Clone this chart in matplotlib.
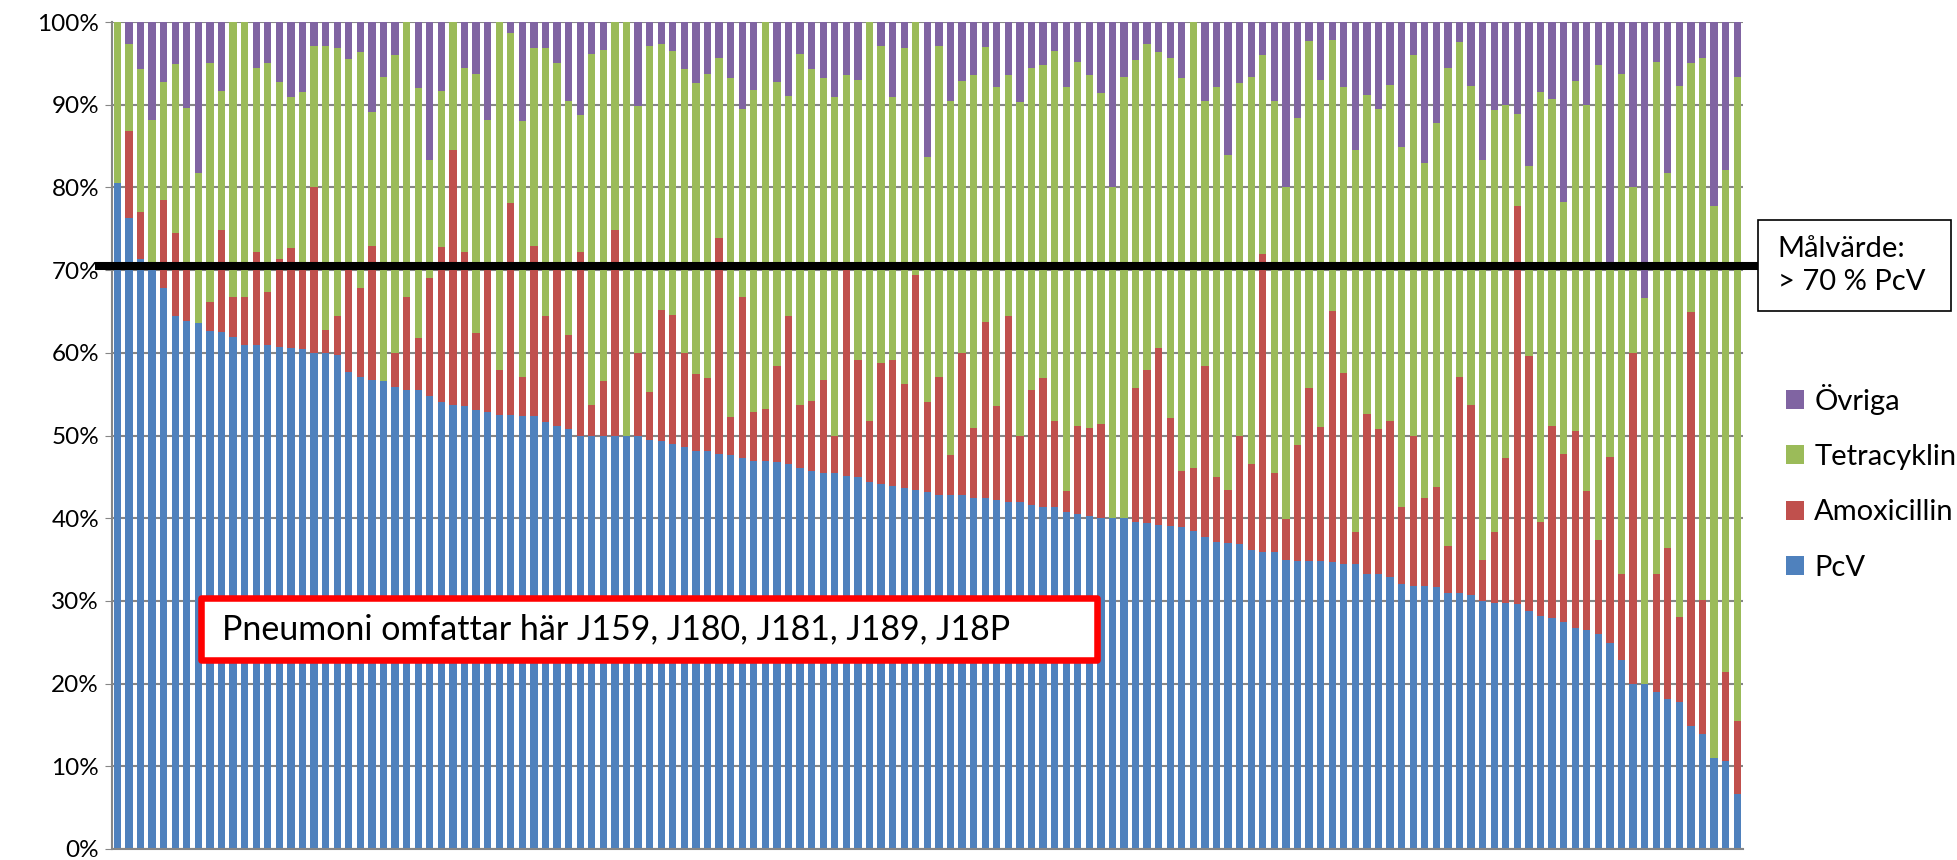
import numpy as np
import matplotlib.pyplot as plt
from matplotlib.patches import Rectangle
import matplotlib.transforms as mtransforms

plt.rcParams['font.family'] = ['Lato', 'DejaVu Sans']

# Andel (%) per vårdcentral, sorterat efter PcV
pcv = [80.5, 76.3, 71.4, 71.0, 67.8, 64.4, 63.8, 63.6, 62.6, 62.5,
       61.9, 61.0, 61.0, 60.9, 60.7, 60.6, 60.5, 60.0, 60.0, 59.7,
       57.7, 57.1, 56.7, 56.6, 55.9, 55.5, 55.5, 54.8, 54.1, 53.7,
       53.6, 53.1, 52.8, 52.5, 52.5, 52.4, 52.4, 51.6, 51.1, 50.8,
       50.0, 50.0, 50.0, 50.0, 50.0, 50.0, 49.4, 49.3, 49.0, 48.6,
       48.1, 48.1, 47.8, 47.7, 47.3, 46.9, 46.9, 46.8, 46.6, 46.1,
       45.7, 45.5, 45.5, 45.1, 45.0, 44.4, 44.1, 43.9, 43.7, 43.4,
       43.2, 42.8, 42.8, 42.8, 42.5, 42.4, 42.2, 41.9, 41.9, 41.6,
       41.4, 41.4, 40.8, 40.5, 40.3, 40.0, 40.0, 40.0, 39.6, 39.4,
       39.2, 39.1, 38.9, 38.4, 37.7, 37.1, 37.0, 36.9, 36.1, 35.9,
       35.9, 34.9, 34.8, 34.8, 34.8, 34.7, 34.5, 34.5, 33.3, 33.2,
       32.9, 32.0, 31.8, 31.8, 31.7, 31.0, 30.9, 30.7, 30.0, 29.7,
       29.7, 29.6, 28.8, 28.2, 27.9, 27.5, 26.7, 26.5, 26.0, 24.9,
       22.8, 20.0, 20.0, 19.0, 18.1, 17.8, 14.9, 13.9, 11.0, 10.6,
       6.7]

amoxicillin = [0, 10.5, 5.6, 0, 10.7, 10.1, 7.2, 0, 3.6, 12.4,
               4.8, 5.7, 11.2, 6.5, 10.7, 12.1, 10.5, 20.0, 2.8, 4.8,
               13.3, 10.7, 16.2, 0, 4.1, 11.2, 6.3, 14.2, 18.7, 30.8,
               18.6, 9.3, 17.7, 5.4, 25.6, 4.7, 20.5, 12.9, 19.9, 11.4,
               22.2, 3.7, 6.6, 24.9, 0, 10.0, 5.9, 15.9, 15.6, 11.4,
               9.3, 8.8, 26.1, 4.5, 19.4, 6.0, 6.3, 11.6, 17.8, 7.6,
               8.5, 11.2, 4.4, 25.4, 14.1, 7.4, 14.7, 15.2, 12.5, 26.0,
               10.8, 14.3, 4.8, 17.2, 8.4, 21.3, 11.4, 22.6, 8.0, 13.9,
               15.5, 10.3, 2.5, 10.7, 10.6, 11.4, 0, 0, 16.2, 18.5,
               21.4, 13.0, 6.8, 7.7, 20.7, 7.9, 6.4, 13.0, 10.5, 36.0,
               9.6, 5.0, 14.0, 21.0, 16.2, 30.4, 23.1, 3.8, 19.3, 17.6,
               18.9, 9.4, 18.1, 10.7, 12.1, 5.6, 26.2, 23.0, 4.9, 8.6,
               17.6, 48.1, 30.8, 11.4, 23.2, 20.3, 23.9, 16.8, 11.4, 22.5,
               10.5, 40.0, 0, 14.3, 18.3, 10.3, 50.0, 16.2, 0, 10.8,
               8.8]

tetracyklin = [19.5, 10.5, 17.3, 17.2, 14.3, 20.4, 18.6, 18.2, 28.9, 16.7,
               33.3, 33.3, 22.2, 27.7, 21.4, 18.2, 20.5, 17.1, 34.3, 32.3,
               24.5, 28.6, 16.2, 36.7, 36.0, 33.3, 30.2, 14.3, 18.8, 15.5,
               22.2, 31.3, 17.7, 42.1, 20.6, 30.9, 23.9, 32.3, 24.1, 28.3,
               16.6, 42.4, 40.0, 25.1, 50.0, 29.9, 41.8, 32.1, 31.9, 34.3,
               35.2, 36.8, 21.7, 41.0, 22.8, 38.9, 46.8, 34.4, 26.7, 42.4,
               40.1, 36.5, 41.0, 23.1, 33.9, 48.2, 38.3, 31.8, 40.6, 30.6,
               29.7, 40.0, 42.8, 32.9, 42.7, 33.3, 38.5, 29.1, 40.4, 38.9,
               37.9, 44.8, 48.8, 44.0, 42.7, 40.0, 40.0, 53.3, 39.6, 39.4,
               35.8, 43.5, 47.5, 53.9, 32.1, 47.1, 40.5, 42.7, 46.7, 24.1,
               44.9, 40.1, 39.6, 41.9, 42.0, 32.7, 34.6, 46.2, 38.6, 38.7,
               40.6, 43.5, 46.1, 40.5, 44.0, 57.8, 40.5, 38.6, 48.4, 51.1,
               42.7, 11.2, 23.0, 51.9, 39.6, 30.4, 42.3, 46.7, 57.4, 23.6,
               60.4, 20.0, 46.6, 61.9, 45.4, 64.2, 30.1, 65.6, 66.7, 60.7,
               77.8]

ovriga = [0, 2.7, 5.7, 11.8, 7.2, 5.1, 10.4, 18.2, 4.9, 8.4,
          0, 0, 5.6, 4.9, 7.2, 9.1, 8.5, 2.9, 2.9, 3.2,
          4.5, 3.6, 10.9, 6.7, 4.0, 0, 8.0, 16.7, 8.4, 0,
          5.6, 6.3, 11.8, 0, 1.3, 12.0, 3.2, 3.2, 4.9, 9.5,
          11.2, 3.9, 3.4, 0, 0, 10.1, 2.9, 2.7, 3.5, 5.7,
          7.4, 6.3, 4.4, 6.8, 10.5, 8.2, 0, 7.2, 8.9, 3.9,
          5.7, 6.8, 9.1, 6.4, 7.0, 0, 2.9, 9.1, 3.2, 0,
          16.3, 2.9, 9.6, 7.1, 6.4, 3.0, 7.9, 6.4, 9.7, 5.6,
          5.2, 3.5, 7.9, 4.8, 6.4, 8.6, 20.0, 6.7, 4.6, 2.7,
          3.6, 4.4, 6.8, 0, 9.5, 7.9, 16.1, 7.4, 6.7, 4.0,
          9.6, 20.0, 11.6, 2.3, 7.0, 2.2, 7.8, 15.5, 8.8, 10.5,
          7.6, 15.1, 4.0, 17.0, 12.2, 5.6, 2.4, 7.7, 16.7, 10.6,
          10.0, 11.1, 17.4, 8.5, 9.3, 21.8, 7.1, 10.0, 5.2, 29.0,
          6.3, 20.0, 33.4, 4.8, 18.2, 7.7, 5.0, 4.3, 22.3, 17.9,
          6.7]

series_names = ['PcV', 'Amoxicillin', 'Tetracyklin', 'Övriga']
series_colors = ['#4F81BD', '#C0504D', '#9BBB59', '#8064A2']
y_ticks = [0, 10, 20, 30, 40, 50, 60, 70, 80, 90, 100]
target_value = 70.5
target_text = 'Målvärde:\n> 70 % PcV'
note_text = 'Pneumoni omfattar här J159, J180, J181, J189, J18P'

# Figure and axes placement
fig = plt.figure(figsize=(19.58, 8.6), dpi=100)
ax = fig.add_axes([0.0570, 0.0128, 0.8332, 0.9616])

x = np.arange(len(pcv))
bottom = np.zeros(len(pcv))
handles = []
for name, vals, color in zip(series_names, [pcv, amoxicillin, tetracyklin, ovriga], series_colors):
    vals = np.array(vals)
    h = ax.bar(x, vals, bottom=bottom, width=0.63, color=color, label=name, zorder=2)
    handles.append(h)
    bottom = bottom + vals

ax.set_xlim(-0.5, len(pcv) - 0.5)
ax.set_ylim(0, 100)
ax.set_yticks(y_ticks)
ax.set_yticklabels([f'{t}%' for t in y_ticks], fontsize=17.5)
ax.set_xticks([])
ax.tick_params(axis='y', length=5, color='#868686', pad=4)

ax.set_axisbelow(True)
ax.grid(axis='y', color='#868686', linewidth=1.5, zorder=0)
for side in ['top', 'right']:
    ax.spines[side].set_visible(False)
for side in ['left', 'bottom']:
    ax.spines[side].set_color('#868686')
    ax.spines[side].set_linewidth(1.5)

# Target line (Målvärde)
trans = mtransforms.blended_transform_factory(ax.transAxes, ax.transData)
ax.plot([-0.0102, 1.0094], [target_value, target_value], color='black',
        linewidth=5.8, transform=trans, clip_on=False, zorder=5,
        solid_capstyle='butt')

# Target box
fig.patches.append(Rectangle((0.8979, 0.6384), 0.0985, 0.1058, transform=fig.transFigure,
                             facecolor='white', edgecolor='black', linewidth=1.2, zorder=6))
fig.text(0.908, 0.6913, target_text, fontsize=21, va='center', ha='left',
         linespacing=1.35, zorder=7)

# Note box
fig.patches.append(Rectangle((201 / 1958, 1 - 660 / 860), 896 / 1958, 62 / 860,
                             transform=fig.transFigure, facecolor='white', edgecolor='#FF0000',
                             linewidth=4.7, joinstyle='round', zorder=6))
fig.text(222 / 1958, 1 - 629 / 860, note_text, fontsize=24.5, va='center', ha='left', zorder=7)

# Legend, reversed order (Övriga on top)
fig.legend(handles[::-1], series_names[::-1], loc='upper left',
           bbox_to_anchor=(1786 / 1958, 1 - 384 / 860), frameon=False, fontsize=21,
           handlelength=0.62, handleheight=0.62, handletextpad=0.35,
           labelspacing=1.0, borderpad=0, borderaxespad=0)

fig.savefig('out.png', dpi=100)
